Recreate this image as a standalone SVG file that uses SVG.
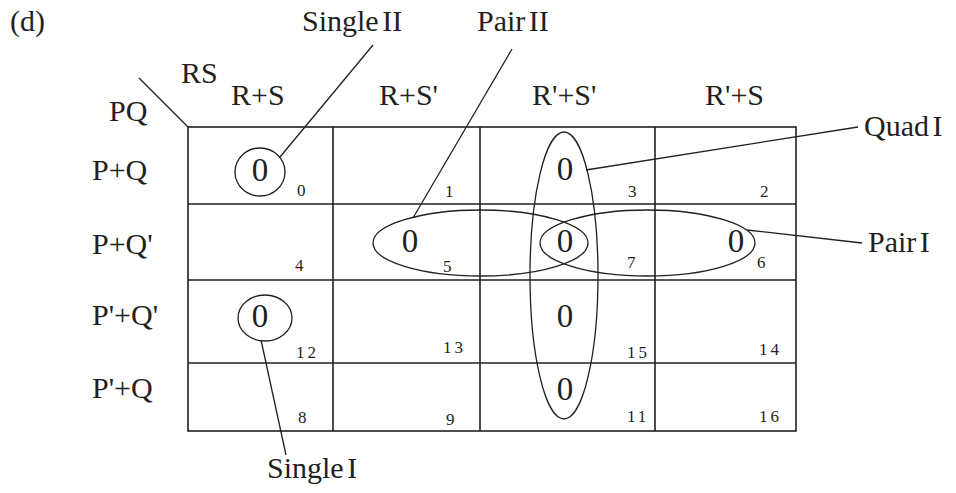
<svg xmlns="http://www.w3.org/2000/svg" width="956" height="493" viewBox="0 0 956 493">
<style>
text{font-family:"Liberation Serif","Times New Roman",serif;fill:#231f20}
.lbl{font-size:30px}
.tag{font-size:30px;word-spacing:-4px}
.z{font-size:33px;text-anchor:middle}
.n{font-size:17px;letter-spacing:3px}
.ln{stroke:#231f20;stroke-width:1.3;fill:none}
.g{stroke:#231f20;stroke-width:1.6;fill:none}
</style>
<rect width="956" height="493" fill="#fff"/>
<text class="lbl" x="10" y="31">(d)</text>
<g id="grid">
<rect class="g" x="188" y="127" width="608" height="304"/>
<line class="g" x1="188" y1="204" x2="796" y2="204"/>
<line class="g" x1="188" y1="280" x2="796" y2="280"/>
<line class="g" x1="188" y1="363" x2="796" y2="363"/>
<line class="g" x1="333" y1="127" x2="333" y2="431"/>
<line class="g" x1="480" y1="127" x2="480" y2="431"/>
<line class="g" x1="655" y1="127" x2="655" y2="431"/>
<line class="ln" x1="139" y1="78" x2="188" y2="127"/>
</g>
<g id="headers">
<text class="lbl" x="181" y="83">RS</text>
<text class="lbl" x="109" y="121">PQ</text>
<text class="lbl" x="231" y="105">R+S</text>
<text class="lbl" x="379" y="105">R+S'</text>
<text class="lbl" x="532" y="105">R'+S'</text>
<text class="lbl" x="705" y="105">R'+S</text>
<text class="lbl" x="92" y="180">P+Q</text>
<text class="lbl" x="92" y="254">P+Q'</text>
<text class="lbl" x="92" y="325">P'+Q'</text>
<text class="lbl" x="92" y="398">P'+Q</text>
</g>
<g id="cells">
<text class="n" x="297" y="196">0</text>
<text class="n" x="445" y="197">1</text>
<text class="n" x="628" y="197">3</text>
<text class="n" x="760" y="197">2</text>
<text class="n" x="295" y="271">4</text>
<text class="n" x="443" y="272">5</text>
<text class="n" x="627" y="268">7</text>
<text class="n" x="757" y="268">6</text>
<text class="n" x="296" y="358">12</text>
<text class="n" x="443" y="353">13</text>
<text class="n" x="627" y="358">15</text>
<text class="n" x="759" y="355">14</text>
<text class="n" x="298" y="423">8</text>
<text class="n" x="446" y="425">9</text>
<text class="n" x="627" y="422">11</text>
<text class="n" x="759" y="422">16</text>
<text class="z" x="260" y="181">0</text>
<text class="z" x="565" y="180">0</text>
<text class="z" x="410" y="252">0</text>
<text class="z" x="565" y="252">0</text>
<text class="z" x="736" y="252">0</text>
<text class="z" x="260" y="327">0</text>
<text class="z" x="565" y="327">0</text>
<text class="z" x="565" y="400">0</text>
</g>
<g id="single-ii"><ellipse class="ln" cx="260" cy="172" rx="25" ry="24"/><text class="tag" x="302" y="31">Single II</text></g>
<g id="single-i"><ellipse class="ln" cx="265" cy="318" rx="27" ry="23"/><text class="tag" x="267" y="478">Single I</text></g>
<g id="quad-i"><ellipse class="ln" cx="564" cy="275.5" rx="34" ry="143.5"/><text class="tag" x="864" y="136">Quad I</text></g>
<g id="pair-ii"><ellipse class="ln" cx="480.5" cy="243" rx="107.5" ry="33"/><text class="tag" x="477" y="31">Pair II</text></g>
<g id="pair-i"><ellipse class="ln" cx="647.5" cy="243" rx="107.5" ry="33"/><text class="tag" x="868" y="252">Pair I</text></g>
<g id="connectors">
<line class="ln" x1="373" y1="45" x2="280" y2="157"/>
<line class="ln" x1="512" y1="49" x2="413" y2="218"/>
<line class="ln" x1="586" y1="170" x2="858" y2="127"/>
<line class="ln" x1="747" y1="230" x2="862" y2="243"/>
<line class="ln" x1="261" y1="340" x2="286" y2="455"/>
</g>
</svg>
